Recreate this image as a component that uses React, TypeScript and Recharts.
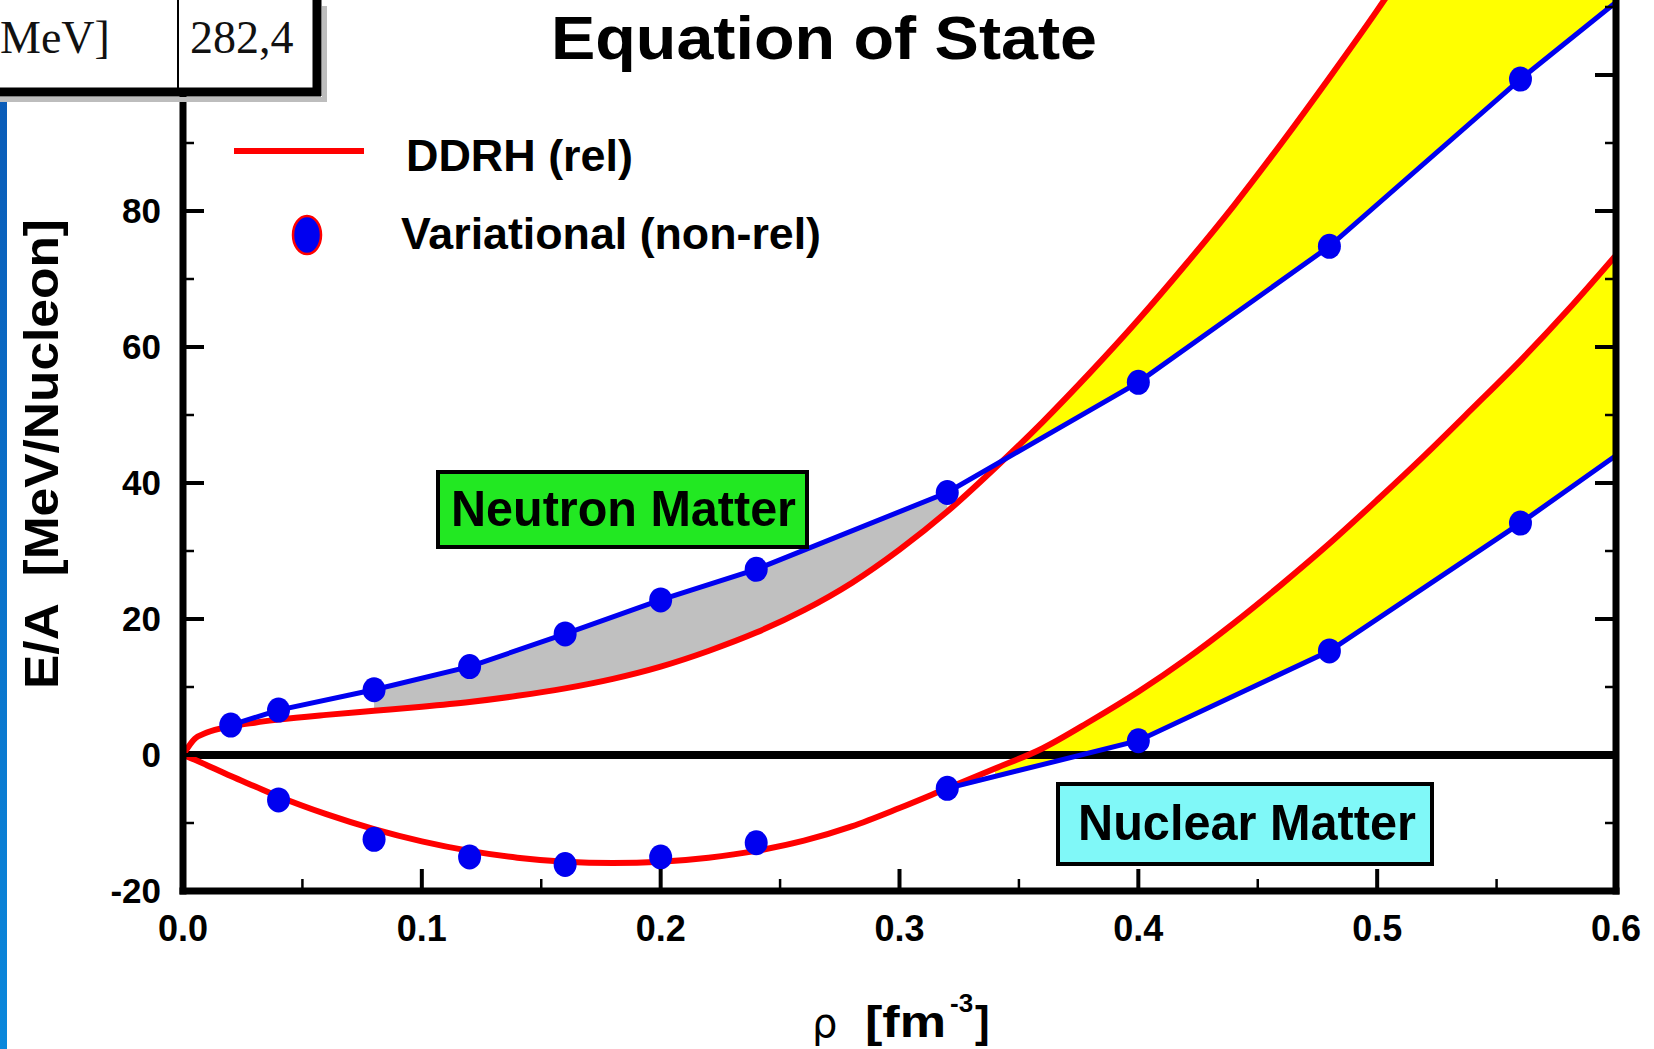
import React from 'react';
import { ComposedChart, Line, Area, XAxis, YAxis, ReferenceLine } from 'recharts';

// ---------- data ----------
// density grid of the DDRH (relativistic) curves, fm^-3
const rho = [0, 0.005, 0.01, 0.02, 0.03, 0.04, 0.06, 0.08, 0.1, 0.12, 0.14, 0.16, 0.18, 0.2, 0.22, 0.24, 0.26, 0.28, 0.3, 0.32, 0.34, 0.36, 0.38, 0.4, 0.42, 0.44, 0.46, 0.48, 0.5, 0.52, 0.54, 0.56, 0.58, 0.6];
// DDRH (rel) E/A, neutron matter
const neutronDDRH = [0, 2.4, 3.3, 4.2, 4.75, 5.2, 5.9, 6.5, 7.1, 7.8, 8.7, 9.8, 11.2, 13.0, 15.3, 18.0, 21.3, 25.3, 30.2, 35.8, 42.2, 49.0, 56.3, 64.0, 72.2, 80.8, 90.0, 99.6, 109.5, 120, 131, 142, 153, 165];
// DDRH (rel) E/A, nuclear matter
const nuclearDDRH = [0, -0.7, -1.5, -3.1, -4.6, -6.1, -8.7, -10.9, -12.7, -14.1, -15.1, -15.7, -15.9, -15.7, -15.1, -14.1, -12.6, -10.5, -7.8, -4.9, -2.0, 1.0, 5.0, 9.3, 14.1, 19.4, 25.1, 31.1, 37.5, 44.1, 51.0, 58.0, 65.5, 73.5];

// Variational (non-rel), neutron matter
const neutronVarRho = [0.02, 0.04, 0.08, 0.12, 0.16, 0.2, 0.24, 0.32, 0.4, 0.48, 0.56, 0.64];
const neutronVar = [4.4, 6.6, 9.6, 13.0, 17.8, 22.8, 27.3, 38.6, 54.8, 74.8, 99.4, 122];
// Variational (non-rel), nuclear matter
const nuclearVarRho = [0.04, 0.08, 0.12, 0.16, 0.2, 0.24, 0.32, 0.4, 0.48, 0.56, 0.64];
const nuclearVar = [-6.6, -12.4, -15.0, -16.1, -15.0, -12.9, -4.9, 2.1, 15.3, 34.1, 54];
const nuclearLineFrom = 0.32; // nuclear variational points joined by a line from here on

// shaded bands (density ranges)
const grayBand = [0.08, 0.32];
const neutronYellowBand = [0.34, 0.6];
const nuclearYellowBand = [0.34, 0.6];

// axis ticks
const xMajorTicks = [0, 0.1, 0.2, 0.3, 0.4, 0.5, 0.6];
const xMinorTicks = [0.05, 0.15, 0.25, 0.35, 0.45, 0.55];
const yMajorTicks = [-20, 0, 20, 40, 60, 80, 100];
const yMinorTicks = [-10, 10, 30, 50, 70, 90, 110];

const legendLabels = ['DDRH (rel)', 'Variational (non-rel)'];
const tableCells = ['MeV]', '282,4'];

// ---------- helpers ----------
const FONT = '"Liberation Sans", Arial, Helvetica, sans-serif';
const RED = '#ff0000';
const BLUE = '#0000f0';

const polyAt = (xs: number[], ys: number[], x: number) => {
  for (let i = 0; i < xs.length - 1; i++) {
    if (x >= xs[i] - 1e-9 && x <= xs[i + 1] + 1e-9) {
      const t = (x - xs[i]) / (xs[i + 1] - xs[i]);
      return ys[i] + t * (ys[i + 1] - ys[i]);
    }
  }
  return ys[ys.length - 1];
};
const inBand = (x: number, b: number[]) => x >= b[0] - 1e-9 && x <= b[1] + 1e-9;

const neutronRedRows = rho.map((x, i) => ({ x, y: neutronDDRH[i] }));
const nuclearRedRows = rho.map((x, i) => ({ x, y: nuclearDDRH[i] }));
const neutronVarRows = neutronVarRho.map((x, i) => ({ x, y: neutronVar[i] }));
const nuclearVarRows = nuclearVarRho.map((x, i) => ({ x, y: nuclearVar[i] }));
const nuclearDotRows = nuclearVarRows.filter((d) => d.x < nuclearLineFrom - 1e-9);
const nuclearLineRows = nuclearVarRows.filter((d) => d.x >= nuclearLineFrom - 1e-9);

const grayRows = rho
  .map((x, i) => ({ x, band: [neutronDDRH[i], polyAt(neutronVarRho, neutronVar, x)] }))
  .filter((d) => inBand(d.x, grayBand));
const neutronYellowRows = rho
  .map((x, i) => {
    const b = polyAt(neutronVarRho, neutronVar, x);
    return { x, band: [b, Math.max(b, neutronDDRH[i])] };
  })
  .filter((d) => inBand(d.x, neutronYellowBand));
const nuclearYellowRows = rho
  .map((x, i) => {
    const b = polyAt(nuclearVarRho, nuclearVar, x);
    return { x, band: [b, Math.max(b, nuclearDDRH[i])] };
  })
  .filter((d) => inBand(d.x, nuclearYellowBand));

const xTicks = [...xMajorTicks, ...xMinorTicks].sort((a, b) => a - b);
const yTicks = [...yMajorTicks, ...yMinorTicks].sort((a, b) => a - b);
const isIn = (arr: number[], v: number) => arr.some((t) => Math.abs(t - v) < 1e-9);

// ---------- tick renderers ----------
const XTick = (props: any) => {
  const { x, y, payload } = props;
  const v = payload.value;
  const major = isIn(xMajorTicks, v);
  return (
    <g>
      <line x1={x} y1={y} x2={x} y2={y - (major ? 22 : 12)} stroke="#000" strokeWidth={major ? 4 : 2.5} />
      {major && (
        <text x={x} y={y + 50} textAnchor="middle" fontFamily={FONT} fontWeight="bold" fontSize={36} fill="#000">
          {v.toFixed(1)}
        </text>
      )}
    </g>
  );
};

const YTick = (props: any) => {
  const { x, y, payload } = props;
  const v = payload.value;
  const major = isIn(yMajorTicks, v);
  return (
    <g>
      <line x1={x} y1={y} x2={x + (major ? 21 : 11)} y2={y} stroke="#000" strokeWidth={major ? 4 : 2.5} />
      {major && (
        <text x={x - 22} y={y + 12} textAnchor="end" fontFamily={FONT} fontWeight="bold" fontSize={35} fill="#000">
          {String(v)}
        </text>
      )}
    </g>
  );
};

const RTick = (props: any) => {
  const { x, y, payload } = props;
  const major = isIn(yMajorTicks, payload.value);
  return <line x1={x} y1={y} x2={x - (major ? 21 : 11)} y2={y} stroke="#000" strokeWidth={major ? 4 : 2.5} />;
};

const blueDot = (p: any) =>
  p.cx == null || p.cy == null ? <g key={`e${p.index}`} /> : (
    <ellipse key={`d${p.index}`} cx={p.cx} cy={p.cy} rx={11.5} ry={12.5} fill={BLUE} stroke="none" />
  );

// ---------- layout ----------
const PLOT_LEFT = 183;
const PLOT_RIGHT = 1616;
const Y_TOP_VALUE = 120;
const Y0_PAGE = 755;
const PX_PER_UNIT = 6.8;
const CHART_TOP = Y0_PAGE - Y_TOP_VALUE * PX_PER_UNIT; // -61
const CHART_H = 1049 - CHART_TOP;
const PLOT_H = 140 * PX_PER_UNIT;
const X_AXIS_H = 40;
const Y_AXIS_W = 1;

const axisLineStyle = { stroke: '#000', strokeWidth: 7, strokeLinecap: 'square' as const };

export default function App() {
  return (
    <div style={{ position: 'fixed', left: 0, top: 0, width: 1654, height: 1049, overflow: 'hidden', background: '#fff' }}>
      <div style={{ position: 'absolute', left: 0, top: CHART_TOP, width: 1654, height: CHART_H }}>
        <ComposedChart
          width={1654}
          height={CHART_H}
          margin={{
            top: 0,
            right: 1654 - PLOT_RIGHT - Y_AXIS_W,
            bottom: CHART_H - PLOT_H - X_AXIS_H,
            left: PLOT_LEFT - Y_AXIS_W,
          }}
        >
          <XAxis
            xAxisId="x"
            dataKey="x"
            type="number"
            domain={[0, 0.6]}
            allowDataOverflow
            ticks={xTicks}
            interval={0}
            tickSize={0}
            tickMargin={0}
            tickLine={false}
            tick={(p: any) => <XTick {...p} />}
            axisLine={axisLineStyle}
            height={X_AXIS_H}
          />
          <YAxis
            yAxisId="y"
            type="number"
            domain={[-20, Y_TOP_VALUE]}
            allowDataOverflow
            ticks={yTicks}
            interval={0}
            width={Y_AXIS_W}
            tickSize={0}
            tickMargin={0}
            tickLine={false}
            tick={(p: any) => <YTick {...p} />}
            axisLine={axisLineStyle}
          />
          <YAxis
            yAxisId="r"
            orientation="right"
            type="number"
            domain={[-20, Y_TOP_VALUE]}
            allowDataOverflow
            ticks={yTicks}
            interval={0}
            width={Y_AXIS_W}
            tickSize={0}
            tickMargin={0}
            tickLine={false}
            tick={(p: any) => <RTick {...p} />}
            axisLine={axisLineStyle}
          />

          <Area xAxisId="x" yAxisId="y" data={grayRows} dataKey="band" type="linear" stroke="none" fill="#c0c0c0" fillOpacity={1} isAnimationActive={false} activeDot={false} />
          <Area xAxisId="x" yAxisId="y" data={neutronYellowRows} dataKey="band" type="linear" stroke="none" fill="#ffff00" fillOpacity={1} isAnimationActive={false} activeDot={false} />
          <Area xAxisId="x" yAxisId="y" data={nuclearYellowRows} dataKey="band" type="linear" stroke="none" fill="#ffff00" fillOpacity={1} isAnimationActive={false} activeDot={false} />

          <ReferenceLine xAxisId="x" yAxisId="y" y={0} stroke="#000" strokeWidth={8} />

          <Line xAxisId="x" yAxisId="y" data={neutronRedRows} dataKey="y" type="monotone" stroke={RED} strokeWidth={6} dot={false} activeDot={false} isAnimationActive={false} />
          <Line xAxisId="x" yAxisId="y" data={nuclearRedRows} dataKey="y" type="monotone" stroke={RED} strokeWidth={6} dot={false} activeDot={false} isAnimationActive={false} />

          <Line xAxisId="x" yAxisId="y" data={neutronVarRows} dataKey="y" type="linear" stroke={BLUE} strokeWidth={5} dot={blueDot} activeDot={false} isAnimationActive={false} />
          <Line xAxisId="x" yAxisId="y" data={nuclearLineRows} dataKey="y" type="linear" stroke={BLUE} strokeWidth={5} dot={blueDot} activeDot={false} isAnimationActive={false} />
          <Line xAxisId="x" yAxisId="y" data={nuclearDotRows} dataKey="y" type="linear" stroke="none" strokeWidth={0} dot={blueDot} activeDot={false} isAnimationActive={false} />
        </ComposedChart>
      </div>

      <svg width={1654} height={1049} style={{ position: 'absolute', left: 0, top: 0 }}>
        <defs>
          <linearGradient id="strip" x1="0" y1="0" x2="0" y2="1">
            <stop offset="0" stopColor="#0a5cb8" />
            <stop offset="1" stopColor="#0a88dc" />
          </linearGradient>
        </defs>
        <rect x={0} y={97} width={7} height={960} fill="url(#strip)" />

        {/* table fragment */}
        <rect x={-20} y={-20} width={341} height={115} fill="#fff" />
        <rect x={322} y={6} width={5} height={96} fill="#bdbdbd" />
        <rect x={0} y={97} width={327} height={5} fill="#bdbdbd" />
        <line x1={317} y1={-10} x2={317} y2={96} stroke="#000" strokeWidth={9} />
        <line x1={-10} y1={92} x2={321} y2={92} stroke="#000" strokeWidth={9} />
        <line x1={178} y1={-10} x2={178} y2={88} stroke="#000" strokeWidth={2} />
        <text x={0} y={53} fontFamily='"Liberation Serif", "Times New Roman", serif' fontSize={46} fill="#111">{tableCells[0]}</text>
        <text x={190} y={53} fontFamily='"Liberation Serif", "Times New Roman", serif' fontSize={46} fill="#111">{tableCells[1]}</text>

        {/* title */}
        <text x={824} y={59} textAnchor="middle" fontFamily={FONT} fontWeight="bold" fontSize={62} textLength={546} lengthAdjust="spacingAndGlyphs" fill="#000">
          Equation of State
        </text>

        {/* legend */}
        <line x1={234} y1={151} x2={364} y2={151} stroke={RED} strokeWidth={6} />
        <text x={406} y={171} fontFamily={FONT} fontWeight="bold" fontSize={45} textLength={227} lengthAdjust="spacingAndGlyphs" fill="#000">
          {legendLabels[0]}
        </text>
        <ellipse cx={307} cy={235} rx={14} ry={19} fill={BLUE} stroke={RED} strokeWidth={2.5} />
        <text x={401} y={249} fontFamily={FONT} fontWeight="bold" fontSize={45} textLength={420} lengthAdjust="spacingAndGlyphs" fill="#000">
          {legendLabels[1]}
        </text>

        {/* Neutron Matter label */}
        <rect x={438} y={472} width={369} height={75} fill="#22e822" stroke="#000" strokeWidth={4} />
        <text x={451} y={526} fontFamily={FONT} fontWeight="bold" fontSize={50} textLength={345} lengthAdjust="spacingAndGlyphs" fill="#000">
          Neutron Matter
        </text>

        {/* Nuclear Matter label */}
        <rect x={1058} y={784} width={374} height={80} fill="#80f8f8" stroke="#000" strokeWidth={4} />
        <text x={1078} y={840} fontFamily={FONT} fontWeight="bold" fontSize={50} textLength={338} lengthAdjust="spacingAndGlyphs" fill="#000">
          Nuclear Matter
        </text>

        {/* y-axis title */}
        <text
          transform="translate(58,454) rotate(-90)"
          textAnchor="middle"
          fontFamily={FONT}
          fontWeight="bold"
          fontSize={49}
          textLength={470}
          lengthAdjust="spacingAndGlyphs"
          style={{ whiteSpace: 'pre' }}
          fill="#000"
        >
          {'E/A  [MeV/Nucleon]'}
        </text>

        {/* x-axis title */}
        <text x={812} y={1037} fontFamily='"DejaVu Sans", sans-serif' fontSize={40} fill="#000">ρ</text>
        <text x={865} y={1037} fontFamily={FONT} fontWeight="bold" fontSize={44} textLength={81} lengthAdjust="spacingAndGlyphs" fill="#000">[fm</text>
        <text x={950} y={1012} fontFamily={FONT} fontWeight="bold" fontSize={26} fill="#000">-3</text>
        <text x={975} y={1037} fontFamily={FONT} fontWeight="bold" fontSize={44} fill="#000">]</text>
      </svg>
    </div>
  );
}
